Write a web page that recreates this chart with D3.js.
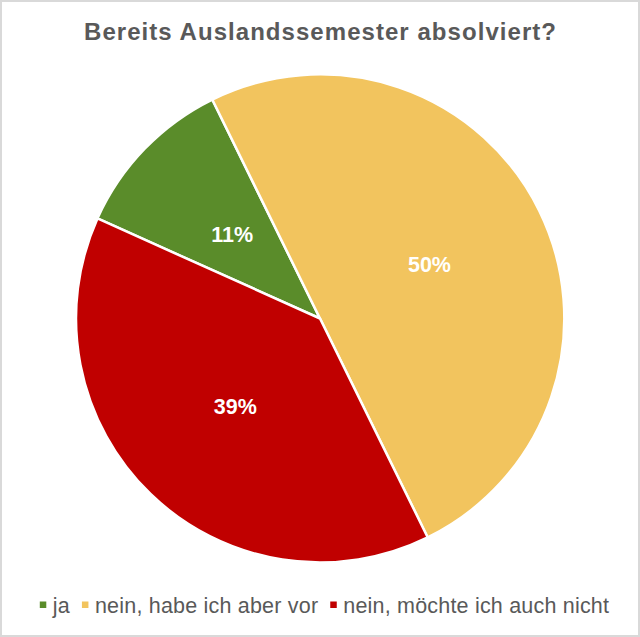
<!DOCTYPE html>
<html><head><meta charset="utf-8">
<script src="https://cdn.jsdelivr.net/npm/d3@7"></script>
<style>body{margin:0;background:#fff}</style>
</head><body>
<svg id="chart" width="640" height="637"></svg>
<script>
const categories = ["ja", "nein, habe ich aber vor", "nein, möchte ich auch nicht"];
const values = [11, 50, 39];
const labels = ["11%", "50%", "39%"];
const colors = ["#5A8C2A", "#F2C45E", "#C00000"];
const title = "Bereits Auslandssemester absolviert?";

const svg = d3.select("#chart");
const W = 640, H = 637;
svg.append("rect").attr("x",1).attr("y",1).attr("width",W-2).attr("height",H-2)
  .attr("fill","#fff").attr("stroke","#d9d9d9").attr("stroke-width",2);

svg.append("text").attr("x",84).attr("y",40)
  .attr("font-family","Liberation Sans, Arial, sans-serif").attr("font-weight","bold")
  .attr("font-size",24).attr("fill","#595959")
  .attr("textLength",472).attr("lengthAdjust","spacing").text(title);

const cx = 320, cy = 318.5, r = 244;
const start = -65.8 * Math.PI/180;
const pie = d3.pie().sort(null).value(d=>d).startAngle(start).endAngle(start + 2*Math.PI);
const arcs = pie(values);
const arc = d3.arc().innerRadius(0).outerRadius(r);
const labelArc = d3.arc().innerRadius(r*0.5).outerRadius(r*0.5);
const g = svg.append("g").attr("transform",`translate(${cx},${cy})`);
g.selectAll("path").data(arcs).join("path")
  .attr("d",arc).attr("fill",(d,i)=>colors[i])
  .attr("stroke","#fff").attr("stroke-width",2.5).attr("stroke-linejoin","round");
g.selectAll("text").data(arcs).join("text")
  .attr("transform",d=>`translate(${labelArc.centroid(d)})`)
  .attr("text-anchor","middle").attr("dy","0.36em")
  .attr("font-family","Liberation Sans, Arial, sans-serif").attr("font-weight","bold")
  .attr("font-size",21.5).attr("fill","#fff").text((d,i)=>labels[i]);

// legend
const lg = svg.append("g");
let x = 0;
categories.forEach((c,i)=>{
  const it = lg.append("g");
  it.append("rect").attr("x",x).attr("y",-3.5).attr("width",6.5).attr("height",6.5).attr("fill",colors[i]);
  const t = it.append("text").attr("x",x+13).attr("y",7.5)
    .attr("font-family","Liberation Sans, Arial, sans-serif").attr("font-size",21.5)
    .attr("letter-spacing",0.2)
    .attr("fill","#595959").text(c);
  x += 13 + t.node().getComputedTextLength() + 12;
});
const total = x - 12;
lg.attr("transform",`translate(${(W-total)/2 + 4.5},${605})`);
</script>
</body></html>
